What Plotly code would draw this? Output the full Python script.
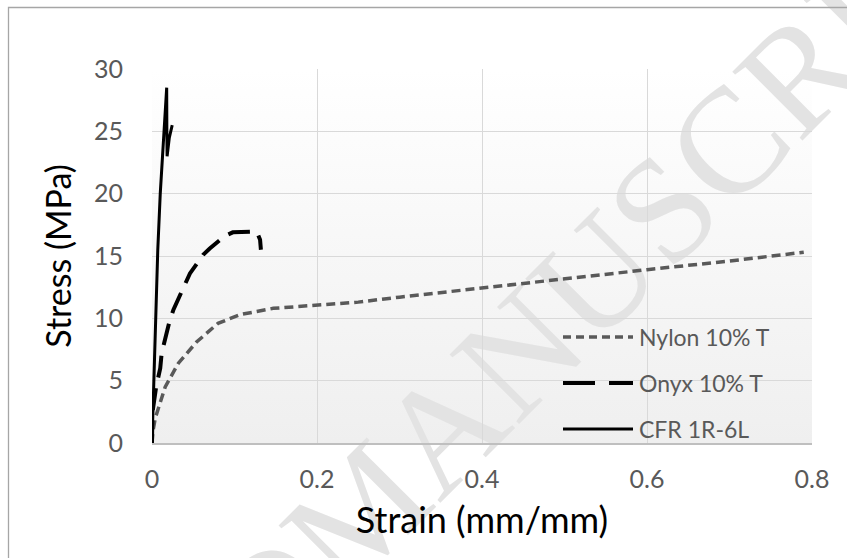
import base64
import plotly.graph_objects as go

# Tensile test curves (strain in mm/mm, stress in MPa)
nylon_strain = [0, 0.001, 0.004, 0.008, 0.016, 0.032, 0.054, 0.080, 0.107, 0.147, 0.200,
                0.250, 0.300, 0.400, 0.500, 0.600, 0.700, 0.790]
nylon_stress = [0, 0.9, 2.0, 2.9, 4.5, 6.4, 8.1, 9.6, 10.3, 10.8, 11.05,
                11.3, 11.7, 12.45, 13.2, 13.9, 14.6, 15.3]

onyx_strain = [0, 0.0005, 0.005, 0.010, 0.0117, 0.0206, 0.026, 0.039, 0.046, 0.062,
               0.070, 0.088, 0.098, 0.119, 0.127, 0.131, 0.132]
onyx_stress = [0, 2.4, 4.5, 6.0, 7.2, 9.6, 10.7, 12.7, 13.6, 15.1,
               15.6, 16.6, 16.9, 16.95, 16.95, 16.3, 15.5]

cfr_strain = [0, 0.002, 0.004, 0.007, 0.010, 0.013, 0.016, 0.0178, 0.018, 0.0183, 0.021, 0.0245]
cfr_stress = [0, 4.5, 9.0, 15.5, 20.0, 23.5, 26.5, 28.5, 25.0, 23.0, 24.5, 25.5]

series_names = ["Nylon 10% T", "Onyx 10% T", "CFR 1R-6L"]
x_ticks = [0, 0.2, 0.4, 0.6, 0.8]
x_tick_text = ["0", "0.2", "0.4", "0.6", "0.8"]
y_ticks = [0, 5, 10, 15, 20, 25, 30]

# Page and plot-area geometry in pixels
W, H = 847, 558
PL, PR, PT, PB = 152, 812, 69, 443
PW, PH = PR - PL, PB - PT

FONT = "Lato, 'Open Sans', sans-serif"
TICK_GRAY = "#595959"

styles = [
    dict(color="#595959", width=3.5, dash="9px,5px"),
    dict(color="#000000", width=4, dash="22px,11px"),
    dict(color="#000000", width=3, dash="solid"),
]
legend_dash = ["8px,5px", "32px,14px", "solid"]

# Background: chart border, shaded plot area and the diagonal watermark
WM_X, WM_Y = 345, 598
svg = f"""<svg xmlns="http://www.w3.org/2000/svg" width="{W}" height="{H}" viewBox="0 0 {W} {H}">
<defs><linearGradient id="g" x1="0" y1="0" x2="0" y2="1">
<stop offset="0" stop-color="#ffffff"/><stop offset="1" stop-color="#efefef"/></linearGradient></defs>
<rect x="0" y="0" width="{W}" height="{H}" fill="#ffffff"/>
<rect x="{PL}" y="{PT}" width="{PW}" height="{PH}" fill="url(#g)"/>
<text x="{WM_X}" y="{WM_Y}" transform="rotate(-45 {WM_X} {WM_Y})" font-family="Liberation Serif, 'DejaVu Serif', serif"
 font-size="150" fill="#e3e3e3" text-anchor="start">MANUSCRIPT</text>
<text x="{WM_X}" y="{WM_Y}" transform="rotate(-45 {WM_X} {WM_Y})" font-family="Liberation Serif, 'DejaVu Serif', serif"
 font-size="150" fill="#e3e3e3" text-anchor="end">ACCEPTED </text>
<path d="M8.5,{H} V7.5 H{W}" fill="none" stroke="#a6a6a6" stroke-width="1.3"/>
</svg>"""
bg_uri = "data:image/svg+xml;base64," + base64.b64encode(svg.encode()).decode()

fig = go.Figure()
for name, xs, ys, st in zip(series_names,
                            [nylon_strain, onyx_strain, cfr_strain],
                            [nylon_stress, onyx_stress, cfr_stress],
                            styles):
    fig.add_trace(go.Scatter(x=xs, y=ys, mode="lines", name=name, line=st,
                             showlegend=False))

# Legend drawn inside the plot area, bottom right
legend_rows_px = [337, 383, 429]
for name, st, dash, ypx in zip(series_names, styles, legend_dash, legend_rows_px):
    yp = (PB - ypx) / PH
    fig.add_shape(type="line", xref="paper", yref="paper",
                  x0=(563 - PL) / PW, x1=(633 - PL) / PW, y0=yp, y1=yp,
                  line=dict(color=st["color"], width=st["width"], dash=dash))
    fig.add_annotation(text=name, xref="paper", yref="paper",
                       x=(637 - PL) / PW, y=yp, xanchor="left", yanchor="middle",
                       showarrow=False, font=dict(family=FONT, size=23, color=TICK_GRAY))

fig.add_layout_image(source=bg_uri, xref="paper", yref="paper",
                     x=-PL / PW, y=1 + PT / PH, sizex=W / PW, sizey=H / PH,
                     xanchor="left", yanchor="top", sizing="stretch", layer="below")

fig.update_layout(
    width=W, height=H,
    margin=dict(l=PL, r=W - PR, t=PT, b=H - PB, autoexpand=False),
    paper_bgcolor="#ffffff",
    plot_bgcolor="rgba(0,0,0,0)",
    showlegend=False,
    font=dict(family=FONT),
)
fig.update_xaxes(
    range=[0, 0.8], tickvals=x_ticks, ticktext=x_tick_text,
    showgrid=True, gridcolor="#d9d9d9", gridwidth=1.3,
    zeroline=False, showline=True, linecolor="#bfbfbf", linewidth=2,
    ticks="", ticklabelstandoff=13,
    tickfont=dict(family=FONT, size=25, color=TICK_GRAY),
    title=dict(text="Strain (mm/mm)", standoff=16,
               font=dict(family=FONT, size=36, color="#000000")),
)
fig.update_yaxes(
    range=[0, 30], tickvals=y_ticks,
    showgrid=True, gridcolor="#d9d9d9", gridwidth=1.3,
    zeroline=False, showline=False,
    ticks="", ticklabelstandoff=28,
    tickfont=dict(family=FONT, size=25, color=TICK_GRAY),
    title=dict(text="Stress (MPa)", standoff=12,
               font=dict(family=FONT, size=34, color="#000000")),
)

fig.write_html("out.html")
